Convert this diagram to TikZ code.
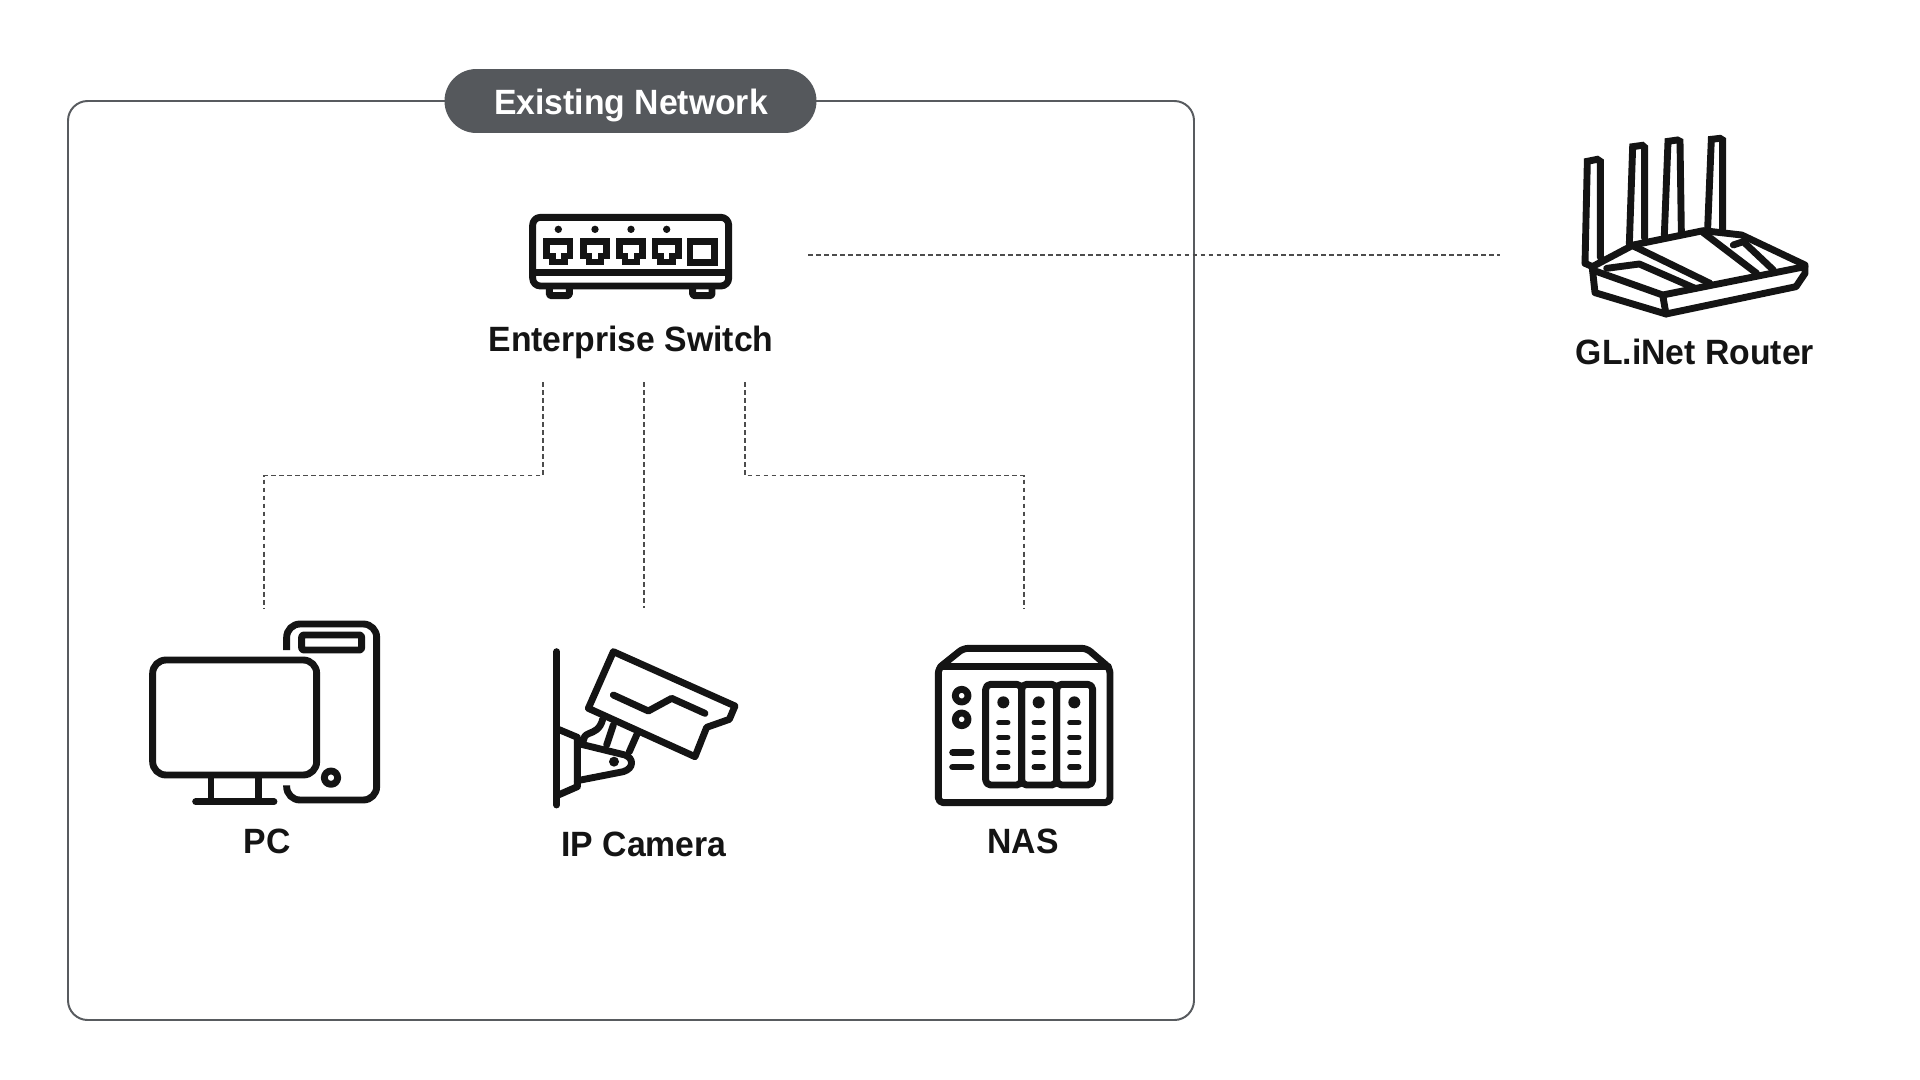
\documentclass[tikz,border=0pt]{standalone}
\usepackage{fontspec}
\setmainfont{Liberation Sans}[BoldFont={Liberation Sans Bold},BoldFeatures={FakeStretch=0.96}]
\definecolor{ink}{HTML}{141414}
\definecolor{pill}{HTML}{55585C}
\definecolor{frame}{HTML}{585B5F}
\definecolor{wire}{HTML}{4C4C4C}
\tikzset{
  x=0.05cm,y=-0.05cm,
  icon/.style={draw=ink,line width=9.8pt,line join=round,line cap=round,fill=none},
  dot/.style={fill=ink,draw=none},
  wirepath/.style={draw=wire,line width=2.5pt,dash pattern=on 6.8pt off 4.6pt},
  lab/.style={font=\fontsize{50}{60}\selectfont\bfseries,text=ink,inner sep=0pt,anchor=base},
  zoomfrom/.style={shift={#1},scale=1/3}
}
\begin{document}
\begin{tikzpicture}
\useasboundingbox[fill=white] (0,0) rectangle (1920,1080);
% frame and title
\draw[frame,line width=2.8pt,rounded corners=28pt] (68,101) rectangle (1194,1020);
\node[fill=pill,rounded corners=32*1.42pt,minimum width=372*1.4226pt,minimum height=64*1.4226pt,inner sep=0pt] (title) at (630.5,101) {};
\node[lab,text=white] (titletext) at (631,114) {Existing Network};
% labels
\node[lab] (switchlabel) at (631,351) {Enterprise Switch};
\node[lab] (routerlabel) at (1695,364) {GL.iNet Router};
\node[lab] (pclabel) at (267,853) {PC};
\node[lab] (camlabel) at (644,856) {IP Camera};
\node[lab] (naslabel) at (1023,853) {NAS};
% connector ends
\coordinate (swE) at (808,255);
\coordinate (rtW) at (1500,255);
\coordinate (swL) at (543,382);
\coordinate (swM) at (644,382);
\coordinate (swR) at (745,382);
\coordinate (pcT) at (264,608);
\coordinate (camT) at (644,608);
\coordinate (nasT) at (1024,608);
\draw[wirepath] (swE) -- (rtW);
\draw[wirepath] (swL) -- ++(0,93.5) -| (pcT);
\draw[wirepath] (swM) -- (camT);
\draw[wirepath] (swR) -- ++(0,93.5) -| (nasT);
% switch icon
\begin{scope}[zoomfrom={(510,200)}]
\draw[icon,rounded corners=11pt] (68,52) rectangle (656,258);
\draw[icon,line cap=butt] (68,218) -- (656,218);
\draw[icon,rounded corners=2pt] (118,262) -- (118,287) -- (178,287) -- (178,262);
\draw[icon,rounded corners=2pt] (548,262) -- (548,287) -- (606,287) -- (606,262);
\foreach \c in {145,255,363,470}{
  \fill[dot] (\c,88) circle (11);
  \draw[icon,line join=miter] (\c-35,125) -- (\c+35,125) -- (\c+35,168) -- (\c+18,168) -- (\c+18,186) -- (\c-18,186) -- (\c-18,168) -- (\c-35,168) -- cycle;
}
\draw[icon,line join=miter] (540,125) rectangle (614,187);
\end{scope}
% router icon
\begin{scope}[zoomfrom={(1540,120)}]
\draw[icon,line join=miter] (135,430) -- (142,124) -- (172,118) -- (181,124) -- (181,412);
\draw[icon,line join=miter] (268,372) -- (278,80) -- (307,76) -- (314,82) -- (314,355);
\draw[icon,line join=miter] (373,345) -- (384,64) -- (412,60) -- (420,64) -- (424,335);
\draw[icon,line join=miter] (503,325) -- (514,58) -- (540,55) -- (548,60) -- (548,330);
\draw[icon] (135,430) -- (157,440) -- (280,375) -- (490,332) -- (605,345) -- (795,435) -- (795,460) -- (768,500) -- (378,582) -- (165,518) -- (157,445);
\draw[icon] (157,450) -- (368,525) -- (795,440);
\draw[icon] (368,525) -- (378,582);
\draw[icon] (200,445) -- (298,432) -- (465,505);
\draw[icon] (280,378) -- (510,490);
\draw[icon] (490,338) -- (650,460);
\draw[icon] (580,375) -- (610,365) -- (700,450);
\end{scope}
% PC icon
\begin{scope}[zoomfrom={(130,600)}]
\draw[icon,rounded corners=19pt] (68,180) rectangle (560,525);
\draw[icon,line cap=butt] (243,530) -- (243,605);
\draw[icon,line cap=butt] (385,530) -- (385,605);
\draw[icon] (197,605) -- (432,605);
\draw[icon,line cap=butt,rounded corners=19pt] (470,150) -- (470,72) -- (740,72) -- (740,600) -- (470,600) -- (470,556);
\draw[icon,rounded corners=3pt] (515,105) rectangle (695,150);
\draw[icon] (603,533) circle (20);
\end{scope}
% camera icon
\begin{scope}[zoomfrom={(530,630)}]
\draw[icon] (80,65) -- (80,525);
\draw[icon] (250,65) -- (615,228) -- (598,268) -- (530,292) -- (495,380) -- (175,235) -- cycle;
\draw[icon] (250,195) -- (355,243) -- (425,205) -- (525,250);
\draw[icon] (85,298) -- (142,322) -- (142,470) -- (85,495);
\draw[icon] (142,340) -- (285,375) .. controls (312,385) and (312,415) .. (280,425) -- (142,452);
\fill[dot] (252,395) circle (15);
\draw[icon] (218,268) .. controls (210,300) and (190,305) .. (178,310) .. controls (165,315) and (160,322) .. (160,332);
\draw[icon] (250,285) -- (230,345);
\draw[icon] (320,315) -- (298,365);
\end{scope}
% NAS icon
\begin{scope}[zoomfrom={(920,630)}]
\draw[icon,rounded corners=7pt] (55,115) -- (130,55) -- (500,55) -- (570,115) -- (570,518) -- (55,518) -- cycle;
\draw[icon] (62,110) -- (565,110);
\draw[icon,rounded corners=7pt] (197,163) rectangle (305,465);
\draw[icon,rounded corners=7pt] (305,163) rectangle (410,465);
\draw[icon,rounded corners=7pt] (410,163) rectangle (518,465);
\foreach \c in {250,356,463}{
  \fill[dot] (\c,217) circle (18);
  \foreach \d in {278,322,367,411}{
    \draw[draw=ink,line width=8pt,line cap=round] (\c-13,\d) -- (\c+13,\d);
  }
}
\draw[icon] (125,197) circle (19);
\draw[icon] (125,268) circle (19);
\draw[icon] (98,367) -- (153,367);
\draw[icon] (98,411) -- (153,411);
\end{scope}
\end{tikzpicture}
\end{document}
